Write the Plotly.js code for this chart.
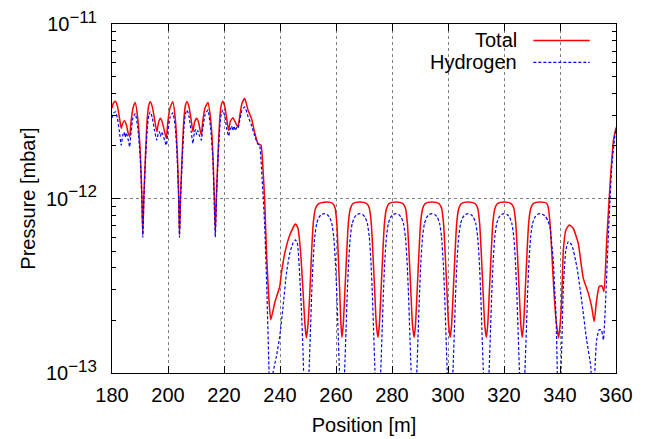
<!DOCTYPE html>
<html>
<head>
<meta charset="utf-8">
<script src="https://cdn.plot.ly/plotly-3.0.1.min.js"></script>
<style>
  html, body { margin: 0; padding: 0; background: #ffffff; }
  #chart { width: 647px; height: 439px; }
</style>
</head>
<body>
<div id="chart"></div>
<script>
// Position along the beam line [m]
const positionTotal = [
  180.0, 180.5, 181.25, 181.9, 182.6, 183.3, 183.8, 184.5, 185.2, 185.7, 186.3, 186.8, 187.5, 188.3, 189.2, 190.1, 190.65, 191.0, 191.4, 192.0, 192.6,
  193.1, 193.7, 194.4, 195.2, 196.0, 196.6, 197.3, 197.9, 198.7, 199.4, 199.9, 200.7, 201.7, 202.6, 203.3, 203.8, 204.1, 204.5, 205.1, 205.7,
  206.2, 206.8, 207.5, 208.3, 208.9, 209.5, 210.3, 211.0, 211.5, 211.9, 212.4, 213.2, 214.25, 215.2, 216.0, 216.5, 216.9, 217.3, 217.9, 218.5,
  219.0, 219.6, 220.3, 221.0, 221.65, 222.3, 223.2, 224.2, 225.0, 225.6, 226.4, 227.4, 228.6, 229.8, 230.9, 232.1, 233.2, 233.9, 234.5, 235.2, 236.0, 236.7,
  238.1, 239.9, 240.5, 241.7, 243.5, 245.5, 246.4, 247.3, 248.2, 248.9, 249.4,
  250.0, 250.7, 251.3, 251.9, 252.7, 253.8, 255.2, 256.6, 258.0, 259.0, 259.6, 260.3, 260.8, 261.3, 261.7,
  262.1, 262.6, 263.2, 263.8, 264.4, 265.1, 265.9, 267.1, 268.5, 269.9, 271.1, 271.9, 272.6, 273.2, 273.8, 274.4,
  275.0, 275.5, 276.1, 276.7, 277.3, 278.0, 278.8, 280.0, 281.4, 282.8, 284.0, 284.8, 285.5, 286.1, 286.7, 287.3,
  287.9, 288.4, 289.0, 289.6, 290.2, 290.9, 291.7, 292.9, 294.3, 295.7, 296.9, 297.7, 298.4, 299.0, 299.6, 300.2,
  300.8, 301.3, 301.9, 302.5, 303.1, 303.8, 304.6, 305.8, 307.2, 308.6, 309.8, 310.6, 311.3, 311.9, 312.5, 313.1,
  313.7, 314.2, 314.8, 315.4, 316.0, 316.7, 317.5, 318.7, 320.1, 321.5, 322.7, 323.5, 324.2, 324.8, 325.4, 326.0,
  326.5, 327.0, 327.6, 328.2, 328.8, 329.5, 330.3, 331.5, 332.9, 334.3, 335.2, 335.8, 336.5, 337.1, 337.8, 338.6,
  339.5, 340.1, 340.6, 341.2, 342.1, 343.3, 344.7, 346.5, 348.3, 350.1, 351.3, 352.2, 353.1, 354.0, 355.0, 355.7, 356.7, 357.9, 359.1, 360.0
];
// Total pressure [mbar]
const pressureTotal = [
  3.3e-12, 3.52e-12, 3.61e-12, 3.4e-12, 2.95e-12, 2.52e-12, 2.7e-12, 2.79e-12, 2.62e-12, 2.4e-12, 2.26e-12, 2.75e-12, 3.3e-12, 3.55e-12, 2.88e-12, 1.85e-12, 1.05e-12, 6.2e-13, 1.05e-12, 1.85e-12, 2.88e-12,
  3.4e-12, 3.58e-12, 3.35e-12, 2.85e-12, 2.41e-12, 2.72e-12, 2.88e-12, 2.75e-12, 2.45e-12, 2.21e-12, 2.7e-12, 3.3e-12, 3.58e-12, 2.88e-12, 1.85e-12, 1.05e-12, 6.2e-13, 1.05e-12, 1.85e-12, 2.88e-12,
  3.4e-12, 3.58e-12, 3.35e-12, 2.8e-12, 2.41e-12, 2.75e-12, 2.88e-12, 2.7e-12, 2.45e-12, 2.31e-12, 2.75e-12, 3.3e-12, 3.55e-12, 2.88e-12, 1.85e-12, 1.05e-12, 6.4e-13, 1.05e-12, 1.85e-12, 2.88e-12,
  3.42e-12, 3.61e-12, 3.35e-12, 2.85e-12, 2.46e-12, 2.78e-12, 2.9e-12, 2.7e-12, 2.57e-12, 2.95e-12, 3.5e-12, 3.74e-12, 3.2e-12, 2.88e-12, 2.41e-12, 2.07e-12, 2.02e-12, 1.5e-12, 1.0e-12, 4.8e-13, 2.7e-13, 2.02e-13,
  2.52e-13, 3.13e-13, 3.73e-13, 4.86e-13, 6.18e-13, 7.15e-13, 6.75e-13, 5.07e-13, 3.0e-13, 1.9e-13, 1.59e-13,
  1.9e-13, 3.0e-13, 5.0e-13, 7.3e-13, 8.8e-13, 9.35e-13, 9.5e-13, 9.55e-13, 9.5e-13, 9.3e-13, 8.9e-13, 7.2e-13, 4.7e-13, 3.0e-13, 2.0e-13,
  1.6e-13, 1.9e-13, 3.0e-13, 4.8e-13, 7.2e-13, 8.7e-13, 9.3e-13, 9.5e-13, 9.55e-13, 9.5e-13, 9.3e-13, 8.8e-13, 7.2e-13, 4.8e-13, 3.0e-13, 1.9e-13,
  1.6e-13, 1.9e-13, 3.0e-13, 4.8e-13, 7.2e-13, 8.7e-13, 9.3e-13, 9.5e-13, 9.55e-13, 9.5e-13, 9.3e-13, 8.8e-13, 7.2e-13, 4.8e-13, 3.0e-13, 1.9e-13,
  1.6e-13, 1.9e-13, 3.0e-13, 4.8e-13, 7.2e-13, 8.7e-13, 9.3e-13, 9.5e-13, 9.55e-13, 9.5e-13, 9.3e-13, 8.8e-13, 7.2e-13, 4.8e-13, 3.0e-13, 1.9e-13,
  1.6e-13, 1.9e-13, 3.0e-13, 4.8e-13, 7.2e-13, 8.7e-13, 9.3e-13, 9.5e-13, 9.55e-13, 9.5e-13, 9.3e-13, 8.8e-13, 7.2e-13, 4.8e-13, 3.0e-13, 1.9e-13,
  1.6e-13, 1.9e-13, 3.0e-13, 4.8e-13, 7.2e-13, 8.7e-13, 9.3e-13, 9.5e-13, 9.55e-13, 9.5e-13, 9.3e-13, 8.8e-13, 7.2e-13, 4.8e-13, 3.0e-13, 1.9e-13,
  1.6e-13, 1.9e-13, 3.0e-13, 4.8e-13, 7.2e-13, 8.7e-13, 9.3e-13, 9.5e-13, 9.55e-13, 9.5e-13, 9.4e-13, 8.9e-13, 7.0e-13, 4.8e-13, 3.0e-13, 2.0e-13,
  1.59e-13, 1.95e-13, 2.63e-13, 5.07e-13, 6.6e-13, 7.05e-13, 6.75e-13, 5.54e-13, 3.5e-13, 2.87e-13, 2.4e-13, 1.97e-13, 2.63e-13, 3.13e-13, 3.16e-13, 2.93e-13, 5.79e-13, 1.22e-12, 2.16e-12, 2.55e-12
];
const positionHydrogen = [
  180.0, 180.5, 181.25, 181.9, 182.6, 183.3, 183.8, 184.3, 184.7, 185.1, 185.7, 186.3, 186.8, 187.5, 188.3, 189.2, 190.1, 190.65, 191.0, 191.4, 192.0, 192.6,
  193.1, 193.7, 194.4, 195.2, 196.0, 196.5, 196.9, 197.3, 197.7, 198.2, 198.8, 199.4, 199.9, 200.7, 201.7, 202.6, 203.3, 203.8, 204.1, 204.5, 205.1, 205.7,
  206.2, 206.8, 207.5, 208.3, 208.9, 209.4, 209.8, 210.2, 210.6, 211.2, 211.9, 212.4, 213.2, 214.25, 215.2, 216.0, 216.5, 216.9, 217.3, 217.9, 218.5,
  219.0, 219.6, 220.3, 221.0, 221.65, 222.2, 222.7, 223.1, 223.6, 224.1, 224.6, 225.0, 225.6, 226.4, 227.4, 228.6, 229.8, 230.9, 232.1, 232.7, 233.6, 234.5, 235.3, 236.1, 236.6, 237.1, 237.5,
  238.7, 239.9, 241.1, 242.3, 243.5, 244.6, 245.5, 246.2, 247.0, 247.6, 248.2, 248.7,
  249.4, 249.95, 250.4, 250.9, 251.3, 251.8, 252.4, 253.1, 253.9, 254.8, 255.8, 256.8, 257.7, 258.5, 259.2, 259.8, 260.3, 260.7, 261.2, 261.7,
  262.1, 262.65, 263.1, 263.6, 264.0, 264.5, 265.1, 265.8, 266.6, 267.5, 268.5, 269.5, 270.4, 271.2, 271.9, 272.5, 273.0, 273.4, 273.9, 274.4,
  275.0, 275.55, 276.0, 276.5, 276.9, 277.4, 278.0, 278.7, 279.5, 280.4, 281.4, 282.4, 283.3, 284.1, 284.8, 285.4, 285.9, 286.3, 286.8, 287.3,
  287.9, 288.45, 288.9, 289.4, 289.8, 290.3, 290.9, 291.6, 292.4, 293.3, 294.3, 295.3, 296.2, 297.0, 297.7, 298.3, 298.8, 299.2, 299.7, 300.2,
  300.8, 301.35, 301.8, 302.3, 302.7, 303.2, 303.8, 304.5, 305.3, 306.2, 307.2, 308.2, 309.1, 309.9, 310.6, 311.2, 311.7, 312.1, 312.6, 313.1,
  313.7, 314.25, 314.7, 315.2, 315.6, 316.1, 316.7, 317.4, 318.2, 319.1, 320.1, 321.1, 322.0, 322.8, 323.5, 324.1, 324.6, 325.0, 325.5, 326.0,
  326.5, 327.05, 327.5, 328.0, 328.4, 328.9, 329.5, 330.2, 331.0, 331.9, 332.9, 333.9, 334.8, 335.6, 336.4, 337.0, 337.6, 338.1, 338.6, 339.0,
  339.5, 340.0, 340.3, 340.6, 341.2, 342.1, 343.0, 344.2, 346.0, 347.7, 349.5, 351.0, 351.5, 352.0, 352.4, 353.1, 354.0, 354.8, 355.5, 356.3, 357.3, 358.5, 359.7, 360.0
];
// Hydrogen partial pressure [mbar]
const pressureHydrogen = [
  2.9e-12, 3.08e-12, 3.14e-12, 2.9e-12, 2.45e-12, 2.02e-12, 2.28e-12, 2.4e-12, 2.25e-12, 2.38e-12, 2.2e-12, 1.98e-12, 2.4e-12, 2.9e-12, 3.07e-12, 2.55e-12, 1.7e-12, 1.0e-12, 6.0e-13, 1.0e-12, 1.7e-12, 2.55e-12,
  2.98e-12, 3.14e-12, 2.9e-12, 2.45e-12, 2.16e-12, 2.35e-12, 2.42e-12, 2.28e-12, 2.4e-12, 2.32e-12, 2.15e-12, 2.02e-12, 2.4e-12, 2.9e-12, 3.1e-12, 2.55e-12, 1.7e-12, 1.0e-12, 6.0e-13, 1.0e-12, 1.7e-12, 2.55e-12,
  3.05e-12, 3.21e-12, 2.95e-12, 2.4e-12, 2.07e-12, 2.38e-12, 2.48e-12, 2.33e-12, 2.45e-12, 2.3e-12, 2.16e-12, 2.5e-12, 3.0e-12, 3.21e-12, 2.55e-12, 1.7e-12, 1.0e-12, 6.0e-13, 1.0e-12, 1.7e-12, 2.55e-12,
  3.05e-12, 3.21e-12, 2.95e-12, 2.5e-12, 2.28e-12, 2.5e-12, 2.6e-12, 2.45e-12, 2.6e-12, 2.45e-12, 2.56e-12, 2.52e-12, 2.8e-12, 3.2e-12, 3.35e-12, 2.95e-12, 2.63e-12, 2.3e-12, 2.05e-12, 2.02e-12, 1.3e-12, 7.2e-13, 3.0e-13, 1.0e-13, 6e-14, 6e-14, 1.0e-13,
  1.24e-13, 1.62e-13, 2.4e-13, 3.73e-13, 4.86e-13, 5.54e-13, 5.79e-13, 5.54e-13, 3.73e-13, 2.4e-13, 1.36e-13, 7e-14,
  4e-14, 7e-14, 1.05e-13, 1.8e-13, 2.8e-13, 4.3e-13, 6.0e-13, 7.2e-13, 7.8e-13, 8.1e-13, 8.18e-13, 8.1e-13, 7.8e-13, 7.2e-13, 6.0e-13, 4.3e-13, 2.8e-13, 1.8e-13, 1.05e-13, 7e-14,
  4e-14, 7e-14, 1.05e-13, 1.8e-13, 2.8e-13, 4.3e-13, 6.0e-13, 7.2e-13, 7.8e-13, 8.1e-13, 8.18e-13, 8.1e-13, 7.8e-13, 7.2e-13, 6.0e-13, 4.3e-13, 2.8e-13, 1.8e-13, 1.05e-13, 7e-14,
  4e-14, 7e-14, 1.05e-13, 1.8e-13, 2.8e-13, 4.3e-13, 6.0e-13, 7.2e-13, 7.8e-13, 8.1e-13, 8.18e-13, 8.1e-13, 7.8e-13, 7.2e-13, 6.0e-13, 4.3e-13, 2.8e-13, 1.8e-13, 1.05e-13, 7e-14,
  4e-14, 7e-14, 1.05e-13, 1.8e-13, 2.8e-13, 4.3e-13, 6.0e-13, 7.2e-13, 7.8e-13, 8.1e-13, 8.18e-13, 8.1e-13, 7.8e-13, 7.2e-13, 6.0e-13, 4.3e-13, 2.8e-13, 1.8e-13, 1.05e-13, 7e-14,
  4e-14, 7e-14, 1.05e-13, 1.8e-13, 2.8e-13, 4.3e-13, 6.0e-13, 7.2e-13, 7.8e-13, 8.1e-13, 8.18e-13, 8.1e-13, 7.8e-13, 7.2e-13, 6.0e-13, 4.3e-13, 2.8e-13, 1.8e-13, 1.05e-13, 7e-14,
  4e-14, 7e-14, 1.05e-13, 1.8e-13, 2.8e-13, 4.3e-13, 6.0e-13, 7.2e-13, 7.8e-13, 8.1e-13, 8.18e-13, 8.1e-13, 7.8e-13, 7.2e-13, 6.0e-13, 4.3e-13, 2.8e-13, 1.8e-13, 1.05e-13, 7e-14,
  4e-14, 7e-14, 1.05e-13, 1.8e-13, 2.8e-13, 4.3e-13, 6.0e-13, 7.2e-13, 7.8e-13, 8.1e-13, 8.18e-13, 8.1e-13, 7.9e-13, 7.5e-13, 6.9e-13, 5.6e-13, 4.4e-13, 3.0e-13, 2.1e-13, 1.09e-13,
  4e-14, 7e-14, 1.0e-13, 1.36e-13, 3.13e-13, 5.07e-13, 5.66e-13, 5.42e-13, 4.07e-13, 2.63e-13, 1.55e-13, 1.09e-13, 7e-14, 7e-14, 1.0e-13, 1.55e-13, 1.77e-13, 1.76e-13, 1.55e-13, 2.63e-13, 6.32e-13, 1.52e-12, 2.36e-12, 2.45e-12
];

// Axis ticks
const xTickValues = [180, 200, 220, 240, 260, 280, 300, 320, 340, 360];
const yTickValues = [1e-13, 1e-12, 1e-11];
const yTickLabels = [
  '10<sup><span style="font-size:17px">\u221213</span></sup>',
  '10<sup><span style="font-size:17px">\u221212</span></sup>',
  '10<sup><span style="font-size:17px">\u221211</span></sup>'
];
const yMinorTickValues = [2e-13, 3e-13, 4e-13, 5e-13, 6e-13, 7e-13, 8e-13, 9e-13,
                          2e-12, 3e-12, 4e-12, 5e-12, 6e-12, 7e-12, 8e-12, 9e-12];
const seriesNames = ['Total', 'Hydrogen'];

const FONT = 'Liberation Sans, Arial, Helvetica, sans-serif';

const traces = [
  {
    x: positionTotal, y: pressureTotal, name: seriesNames[0],
    type: 'scatter', mode: 'lines',
    line: { color: '#ff0000', width: 1.5, shape: 'spline', smoothing: 0.5 },
    showlegend: false, cliponaxis: true
  },
  {
    x: positionHydrogen, y: pressureHydrogen, name: seriesNames[1],
    type: 'scatter', mode: 'lines',
    line: { color: '#0000ff', width: 1.2, dash: '3px,2px', shape: 'spline', smoothing: 0.5 },
    showlegend: false, cliponaxis: true
  }
];

const layout = {
  width: 647, height: 439,
  margin: { l: 112, r: 31, t: 24, b: 66, pad: 0 },
  paper_bgcolor: '#ffffff', plot_bgcolor: '#ffffff',
  font: { family: FONT, size: 20, color: '#000000' },
  showlegend: false,
  xaxis: {
    range: [180, 360],
    tickmode: 'array', tickvals: xTickValues,
    ticks: 'inside', ticklen: 7, tickwidth: 1, tickcolor: '#000',
    showline: true, linecolor: '#000', linewidth: 1, mirror: 'allticks',
    showgrid: true, gridcolor: '#808080', gridwidth: 1, griddash: 'dot',
    zeroline: false,
    tickfont: { family: FONT, size: 20, color: '#000' },
    ticklabelstandoff: 4,
    title: { text: 'Position [m]', font: { family: FONT, size: 20, color: '#000' }, standoff: 12 }
  },
  yaxis: {
    type: 'log', range: [-13, -11],
    tickmode: 'array', tickvals: yTickValues, ticktext: yTickLabels,
    ticks: 'inside', ticklen: 8, tickwidth: 1, tickcolor: '#000',
    minor: { tickmode: 'array', tickvals: yMinorTickValues, ticks: 'inside', ticklen: 4, tickcolor: '#000', showgrid: false },
    showline: true, linecolor: '#000', linewidth: 1, mirror: 'allticks',
    showgrid: true, gridcolor: '#808080', gridwidth: 1, griddash: 'dot',
    zeroline: false,
    tickfont: { family: FONT, size: 20, color: '#000' },
    ticklabelstandoff: 10,
    title: { text: 'Pressure [mbar]', font: { family: FONT, size: 20, color: '#000' }, standoff: 4 }
  },
  annotations: [
    { xref: 'paper', yref: 'paper', x: 0.807, y: 0.953, xanchor: 'right', yanchor: 'middle',
      text: seriesNames[0], showarrow: false, font: { family: FONT, size: 20, color: '#000' } },
    { xref: 'paper', yref: 'paper', x: 0.807, y: 0.890, xanchor: 'right', yanchor: 'middle',
      text: seriesNames[1], showarrow: false, font: { family: FONT, size: 20, color: '#000' } }
  ],
  shapes: [
    { type: 'line', xref: 'paper', yref: 'paper', x0: 0.836, x1: 0.948, y0: 0.953, y1: 0.953,
      line: { color: '#ff0000', width: 1.5 } },
    { type: 'line', xref: 'paper', yref: 'paper', x0: 0.836, x1: 0.948, y0: 0.890, y1: 0.890,
      line: { color: '#0000ff', width: 1.2, dash: '3px,2px' } }
  ]
};

Plotly.newPlot('chart', traces, layout, { displayModeBar: false, staticPlot: true });
</script>
</body>
</html>
